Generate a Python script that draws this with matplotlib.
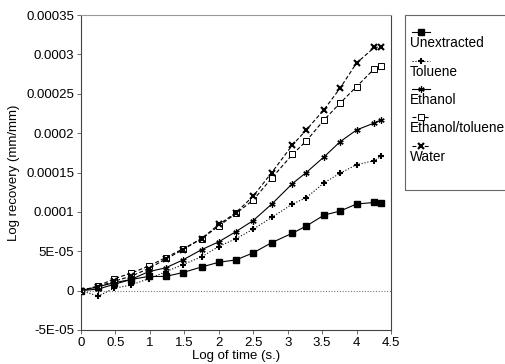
import matplotlib

matplotlib.use("Agg")
import matplotlib.pyplot as plt
from matplotlib.lines import Line2D
from matplotlib.patches import Rectangle

plt.rcParams["font.family"] = ["Liberation Sans", "DejaVu Sans"]

# log10 of elapsed time and recovery for each treatment
log_time = [0, 0.25, 0.48, 0.72, 0.98, 1.23, 1.48, 1.75, 2.0, 2.25, 2.5,
            2.77, 3.07, 3.27, 3.53, 3.76, 4.0, 4.26, 4.36]
unextracted = [0, 5e-6, 1.0e-5, 1.4e-5, 1.8e-5, 1.8e-5, 2.3e-5, 3.0e-5,
               3.6e-5, 3.9e-5, 4.8e-5, 6.1e-5, 7.3e-5, 8.2e-5, 9.6e-5,
               1.01e-4, 1.10e-4, 1.12e-4, 1.11e-4]
toluene = [0, -7e-6, 3e-6, 7e-6, 1.5e-5, 2.4e-5, 3.3e-5, 4.3e-5, 5.6e-5,
           6.6e-5, 7.8e-5, 9.3e-5, 1.10e-4, 1.18e-4, 1.37e-4, 1.49e-4,
           1.60e-4, 1.65e-4, 1.71e-4]
ethanol = [0, 2e-6, 8e-6, 1.4e-5, 2.4e-5, 2.9e-5, 3.9e-5, 5.2e-5, 6.2e-5,
           7.5e-5, 8.9e-5, 1.10e-4, 1.36e-4, 1.50e-4, 1.70e-4, 1.89e-4,
           2.04e-4, 2.13e-4, 2.17e-4]
eth_tol = [0, 6e-6, 1.5e-5, 2.2e-5, 3.1e-5, 4.2e-5, 5.3e-5, 6.6e-5, 8.2e-5,
           9.8e-5, 1.15e-4, 1.43e-4, 1.73e-4, 1.90e-4, 2.17e-4, 2.38e-4,
           2.59e-4, 2.82e-4, 2.85e-4]
water = [0, 5e-6, 1.2e-5, 1.8e-5, 2.8e-5, 4.0e-5, 5.2e-5, 6.6e-5, 8.4e-5,
         9.9e-5, 1.20e-4, 1.50e-4, 1.85e-4, 2.04e-4, 2.30e-4, 2.57e-4,
         2.89e-4, 3.09e-4, 3.09e-4]

series_names = ["Unextracted", "Toluene", "Ethanol", "Ethanol/toluene", "Water"]
x_ticks = [0, 0.5, 1, 1.5, 2, 2.5, 3, 3.5, 4, 4.5]
x_tick_labels = ["0", "0.5", "1", "1.5", "2", "2.5", "3", "3.5", "4", "4.5"]
y_ticks = [-5e-5, 0, 5e-5, 1e-4, 1.5e-4, 2e-4, 2.5e-4, 3e-4, 3.5e-4]
y_tick_labels = ["-5E-05", "0", "5E-05", "0.0001", "0.00015", "0.0002",
                 "0.00025", "0.0003", "0.00035"]

DASH = (0, (3.5, 2))
STYLES = [
    dict(linestyle="-", marker="s", ms=3.8, mfc="black", mec="black"),
    dict(linestyle=":", marker="+", ms=4.5, mew=1.5),
    dict(linestyle="-", marker=(6, 2, 0), ms=4.5, mew=0.9),
    dict(linestyle=DASH, marker="s", ms=4.3, mfc="white", mec="black", mew=0.7),
    dict(linestyle=DASH, marker="x", ms=4.5, mew=1.5),
]

W, H = 506, 364
fig = plt.figure(figsize=(W / 100, H / 100), dpi=100)
ax = fig.add_axes([81 / W, 1 - 330 / H, 310 / W, 315 / H])

for values, style in zip([unextracted, toluene, ethanol, eth_tol, water], STYLES):
    ax.plot(log_time, values, color="black", lw=0.8, zorder=3, **style)

ax.axhline(0, color="#777777", lw=0.8, linestyle=(0, (1, 1.5)), zorder=1)

ax.set_xlim(0, 4.5)
ax.set_ylim(-5e-5, 3.5e-4)
ax.set_xticks(x_ticks, x_tick_labels)
ax.set_yticks(y_ticks, y_tick_labels)
ax.tick_params(direction="out", length=3, width=0.6, labelsize=9.5,
               color="#555555", pad=2)
for name, spine in ax.spines.items():
    spine.set_linewidth(0.8)
    spine.set_color("#999999" if name == "top" else "#444444")
ax.set_xlabel("Log of time (s.)", fontsize=9.5, labelpad=1)
ax.set_ylabel("Log recovery (mm/mm)", fontsize=9.5, labelpad=4)


def fx(px):
    return px / W


def fy(py):
    return 1 - py / H


# legend: sample line on one row, its label on the row below
fig.patches.append(Rectangle((fx(405), fy(190)), fx(W + 5) - fx(405),
                             fy(15) - fy(190), transform=fig.transFigure,
                             fill=False, edgecolor="#666666", lw=0.8))
handle_rows = [32, 61, 89, 117, 146]
label_rows = [43, 72, 100, 128, 157]
for name, style, hy, ly in zip(series_names, STYLES, handle_rows, label_rows):
    fig.lines.append(Line2D([fx(412), fx(421), fx(430)], [fy(hy)] * 3,
                            transform=fig.transFigure, color="black",
                            lw=0.8, markevery=[1], **style))
    fig.text(fx(410), fy(ly), name, fontsize=9.8, va="center", ha="left")

fig.savefig("out.png", dpi=100)
